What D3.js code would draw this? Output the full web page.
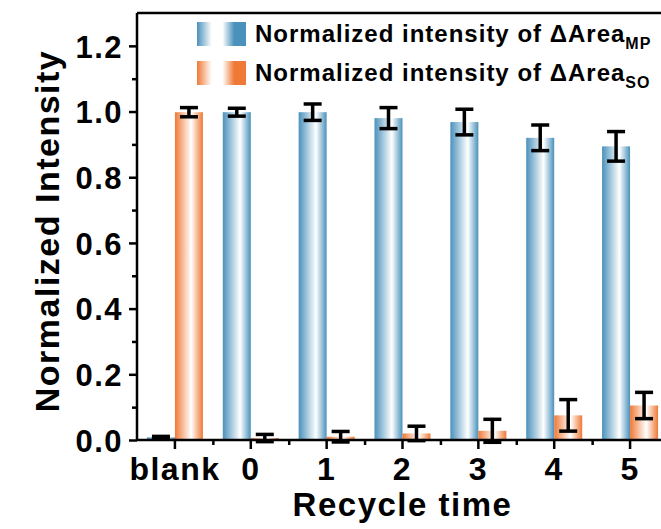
<!DOCTYPE html>
<html>
<head>
<meta charset="utf-8">
<script src="https://cdn.jsdelivr.net/npm/d3@7"></script>
<style>
  body { margin: 0; background: #fff; }
  text { font-family: "Liberation Sans", Arial, sans-serif; font-weight: bold; fill: #000; }
</style>
</head>
<body>
<script>
// data
const categories = ["blank", "0", "1", "2", "3", "4", "5"];
const mpValues = [0.008, 0.998, 0.998, 0.98, 0.968, 0.92, 0.894];
const mpErrors = [0.003, 0.012, 0.025, 0.032, 0.039, 0.039, 0.045];
const soValues = [0.998, 0.006, 0.01, 0.02, 0.028, 0.075, 0.105];
const soErrors = [0.014, 0.011, 0.016, 0.022, 0.035, 0.048, 0.04];
const yTicks = [0, 0.2, 0.4, 0.6, 0.8, 1.0, 1.2];
const yMinorTicks = [0.1, 0.3, 0.5, 0.7, 0.9, 1.1];

const W = 661, H = 529;
const plot = {left: 137, right: 668, top: 13, bottom: 440};

const svg = d3.select("body").append("svg")
  .attr("width", W).attr("height", H);

const defs = svg.append("defs");
function gradient(id, color, stops) {
  const g = defs.append("linearGradient").attr("id", id)
    .attr("x1", "0%").attr("x2", "100%").attr("y1", "0%").attr("y2", "0%");
  stops.forEach(([o, c]) => g.append("stop").attr("offset", o).attr("stop-color", c === "c" ? color : "#fff"));
}
const blue = "#4a91bb", orange = "#ef7936";
gradient("gBlue", blue, [["0%", "c"], ["62%", "w"], ["100%", "c"]]);
gradient("gOrange", orange, [["0%", "c"], ["58%", "w"], ["100%", "c"]]);
gradient("lBlue", blue, [["0%", "c"], ["30%", "w"], ["52%", "w"], ["76%", "c"], ["100%", "c"]]);
gradient("lOrange", orange, [["0%", "c"], ["30%", "w"], ["52%", "w"], ["76%", "c"], ["100%", "c"]]);

// scales
const x = d3.scaleBand().domain(categories).range([plot.left, plot.right]).padding(0);
const xs = d3.scaleBand().domain(["MP", "SO"]).range([-28, 28]).padding(0);
const y = d3.scaleLinear().domain([0, 1.3]).range([plot.bottom, plot.top]);

const series = [
  {key: "MP", values: mpValues, errors: mpErrors, fill: "url(#gBlue)"},
  {key: "SO", values: soValues, errors: soErrors, fill: "url(#gOrange)"}
];

const cx = (c) => x(c) + x.bandwidth() / 2;

// bars
series.forEach((s) => {
  const rows = categories.map((c, i) => ({c, v: s.values[i], e: s.errors[i]}));
  svg.append("g").selectAll("rect").data(rows).join("rect")
    .attr("x", (d) => cx(d.c) + xs(s.key))
    .attr("width", xs.bandwidth())
    .attr("y", (d) => y(d.v))
    .attr("height", (d) => y(0) - y(d.v))
    .attr("fill", s.fill);
});

// error bars
series.forEach((s) => {
  const rows = categories.map((c, i) => ({c, v: s.values[i], e: s.errors[i]}));
  const g = svg.append("g").attr("stroke", "#000").attr("stroke-width", 3.5);
  const mid = (d) => cx(d.c) + xs(s.key) + xs.bandwidth() / 2;
  g.selectAll("line.v").data(rows).join("line")
    .attr("x1", mid).attr("x2", mid)
    .attr("y1", (d) => y(d.v - d.e)).attr("y2", (d) => y(d.v + d.e));
  g.selectAll("line.t").data(rows).join("line")
    .attr("x1", (d) => mid(d) - 9).attr("x2", (d) => mid(d) + 9)
    .attr("y1", (d) => y(d.v + d.e)).attr("y2", (d) => y(d.v + d.e));
  g.selectAll("line.b").data(rows).join("line")
    .attr("x1", (d) => mid(d) - 9).attr("x2", (d) => mid(d) + 9)
    .attr("y1", (d) => y(d.v - d.e)).attr("y2", (d) => y(d.v - d.e));
});

// y axis
const gy = svg.append("g").attr("transform", `translate(${plot.left},0)`)
  .call(d3.axisLeft(y).tickValues(yTicks).tickFormat(d3.format(".1f")).tickSize(8).tickPadding(6));
svg.append("g").attr("transform", `translate(${plot.left},0)`)
  .call(d3.axisLeft(y).tickValues(yMinorTicks).tickFormat("").tickSize(5))
  .select(".domain").remove();
gy.select(".domain").attr("d", `M0,${plot.bottom}V${plot.top}`);
gy.selectAll("text").style("font-size", "31px").style("letter-spacing", "1.5px").attr("dy", "0.36em");

// x axis
const gx = svg.append("g").attr("transform", `translate(0,${plot.bottom})`)
  .call(d3.axisBottom(x).tickSize(9).tickPadding(8).offset(0));
gx.selectAll(".tick line").attr("transform", (d) => "");
gx.select(".domain").attr("d", `M${plot.left},0H${plot.right}`);
gx.selectAll("text").style("font-size", "32px").style("letter-spacing", "1.5px").attr("dy", "0.71em");
svg.append("g").attr("transform", `translate(0,${plot.bottom})`)
  .call(d3.axisBottom(d3.scaleLinear().domain([plot.left, plot.right]).range([plot.left, plot.right]))
    .tickValues(categories.slice(1).map((c) => x(c))).tickFormat("").tickSize(5))
  .select(".domain").remove();

svg.selectAll(".domain, .tick line").attr("stroke", "#000").attr("stroke-width", 2.5);

// top frame
svg.append("line").attr("x1", plot.left).attr("x2", plot.right)
  .attr("y1", plot.top).attr("y2", plot.top).attr("stroke", "#000").attr("stroke-width", 2.5);

// axis titles
svg.append("text").attr("transform", "translate(59,231) rotate(-90)")
  .attr("text-anchor", "middle").style("font-size", "34px").style("letter-spacing", "1.5px")
  .text("Normalized Intensity");
svg.append("text").attr("x", (plot.left + plot.right) / 2).attr("y", 516)
  .attr("text-anchor", "middle").style("font-size", "33px").style("letter-spacing", "1.5px")
  .text("Recycle time");

// legend
const legend = [
  {fill: "url(#lBlue)", sub: "MP", y: 22},
  {fill: "url(#lOrange)", sub: "SO", y: 61}
];
legend.forEach((l) => {
  svg.append("rect").attr("x", 197).attr("y", l.y).attr("width", 49).attr("height", 24).attr("fill", l.fill);
  const t = svg.append("text").attr("x", 255).attr("y", l.y + 20)
    .style("font-size", "24px").style("letter-spacing", "1px");
  t.append("tspan").text("Normalized intensity of \u0394Area");
  t.append("tspan").attr("dy", 7).style("font-size", "16px").text(l.sub);
});
</script>
</body>
</html>
